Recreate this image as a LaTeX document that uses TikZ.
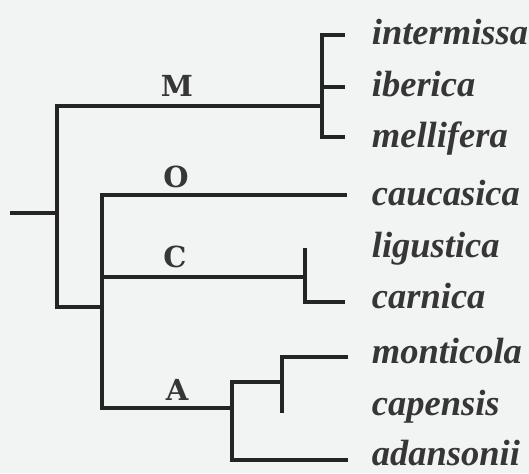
\documentclass[tikz,border=0pt]{standalone}
\usepackage{fontspec}
\setmainfont{Liberation Serif}
\newfontfamily\cladefont{DejaVu Serif}
\usetikzlibrary{positioning}

\definecolor{scanbg}{HTML}{F2F3F3}
\definecolor{inkline}{HTML}{242424}
\definecolor{inktext}{HTML}{363636}

\begin{document}
\begin{tikzpicture}[x=1pt, y=-1pt, line width=3.8pt]
    % Styles
    \tikzstyle{taxon} = [anchor=base west, inner sep=0pt, text=inktext, font=\fontsize{36.5}{40}\selectfont\bfseries\itshape]
    \tikzstyle{clade} = [inner sep=0pt, text=inktext, font=\cladefont\fontsize{29}{32}\selectfont\bfseries]
    \tikzstyle{branch} = [draw=inkline, line join=miter]

    % Page (scan background)
    \fill[scanbg] (0,0) rectangle (529,473);
    \useasboundingbox (0,0) rectangle (529,473);

    % Taxa
    \node (intermissa) [taxon] at (370,45) {intermissa};
    \node (iberica) [taxon] at (370,97) {iberica};
    \node (mellifera) [taxon] at (370,147) {mellifera};
    \node (caucasica) [taxon] at (370,205) {caucasica};
    \node (ligustica) [taxon] at (370,257) {ligustica};
    \node (carnica) [taxon] at (370,308) {carnica};
    \node (monticola) [taxon] at (370,363) {monticola};
    \node (capensis) [taxon] at (370,415) {capensis};
    \node (adansonii) [taxon] at (370,465) {adansonii};

    % Lineage labels
    \node (labM) [clade] at (177,86) {M};
    \node (labO) [clade] at (176,177) {O};
    \node (labC) [clade] at (175,257) {C};
    \node (labA) [clade] at (177,390) {A};

    % Branch points
    \coordinate (root) at (10,213);
    \coordinate (n1) at (57,213);
    \coordinate (n2) at (102,307);
    \coordinate (mNode) at (322,106);
    \coordinate (cNode) at (305,277);
    \coordinate (aNode) at (232,408);
    \coordinate (amNode) at (282,382);

    % Tips
    \coordinate (tipInt) at (345,35);
    \coordinate (tipIbe) at (345,87);
    \coordinate (tipMel) at (345,137);
    \coordinate (tipCau) at (347,195);
    \coordinate (tipLig) at (305,248);
    \coordinate (tipCar) at (345,302);
    \coordinate (tipMon) at (348,357);
    \coordinate (tipCap) at (282,413);
    \coordinate (tipAda) at (348,460);

    % Tree
    \draw [branch] (root) -- (n1);
    \draw [branch] (mNode) -| (n1) |- (n2);

    % M lineage
    \draw [branch] (tipInt) -| (mNode) |- (tipMel);
    \draw [branch] (mNode |- tipIbe) -- (tipIbe);

    % O and A lineages
    \draw [branch] (tipCau) -| (n2) |- (aNode);
    \draw [branch] (amNode) -| (aNode) |- (tipAda);
    \draw [branch] (tipMon) -| (amNode) -- (tipCap);

    % C lineage
    \draw [branch] (n2 |- cNode) -- (cNode);
    \draw [branch] (tipLig) -- (cNode) |- (tipCar);

\end{tikzpicture}
\end{document}
